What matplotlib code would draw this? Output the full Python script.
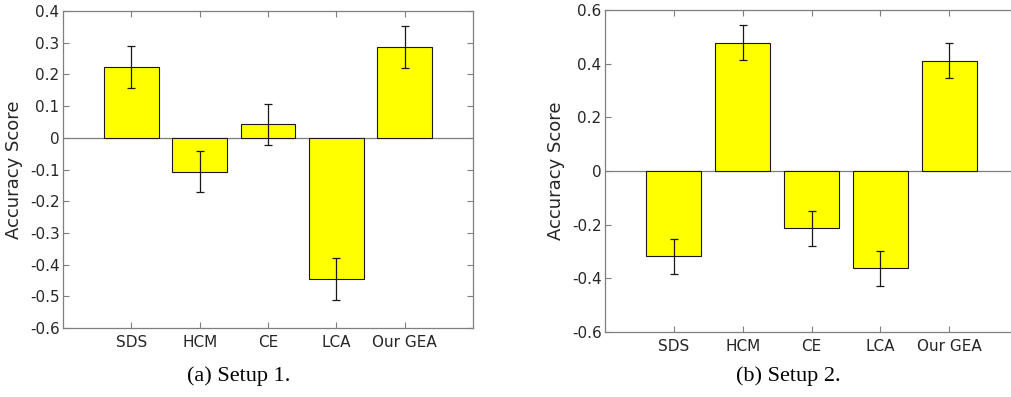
import numpy as np
import matplotlib
matplotlib.use("Agg")
import matplotlib.pyplot as plt

# data
methods = ["SDS", "HCM", "CE", "LCA", "Our GEA"]
setup1_scores = [0.223, -0.107, 0.043, -0.445, 0.287]
setup1_err = [0.066, 0.065, 0.065, 0.066, 0.066]
setup2_scores = [-0.317, 0.478, -0.213, -0.363, 0.411]
setup2_err = [0.065, 0.065, 0.065, 0.065, 0.065]

setup1_ticks = [0.4, 0.3, 0.2, 0.1, 0, -0.1, -0.2, -0.3, -0.4, -0.5, -0.6]
setup2_ticks = [0.6, 0.4, 0.2, 0, -0.2, -0.4, -0.6]

txt = "#262626"
edge = "#7f7f7f"

plt.rcParams['font.family'] = ['DejaVu Sans']

fig = plt.figure(figsize=(10.11, 3.97), dpi=100)
W, H = 1011, 397

def tick_lbl(v):
    if v == 0:
        return "0"
    return ("%.1f" % v)

def panel(rect, scores, err, yticks, caption, cap_x, ylab_x):
    l, t, r, b = rect
    ax = fig.add_axes([l / W, 1 - b / H, (r - l) / W, (b - t) / H])
    x = np.arange(1, len(methods) + 1)
    ax.bar(x, scores, width=0.8, color="#ffff00", edgecolor="#1a1a1a", linewidth=0.8, zorder=2)
    ax.errorbar(x, scores, yerr=err, fmt="none", ecolor="#1a1a1a", elinewidth=0.9,
                capsize=3, capthick=0.9, zorder=3)
    ax.axhline(0, color=edge, linewidth=0.9, zorder=1)
    ax.set_xlim(0, 6)
    ax.set_ylim(min(yticks), max(yticks))
    ax.set_xticks(x)
    ax.set_xticklabels(methods, color=txt)
    ax.set_yticks(yticks)
    ax.set_yticklabels([tick_lbl(v) for v in yticks], color=txt)
    ax.tick_params(direction="in", length=4, width=0.8, color=edge,
                   top=True, right=True, labelsize=11)
    ax.tick_params(axis="y", pad=2.5)
    ax.tick_params(axis="x", pad=5)
    for s in ax.spines.values():
        s.set_color(edge)
        s.set_linewidth(0.9)
    ax.set_ylabel("Accuracy Score", color=txt, fontsize=13)
    # label anchor is its right edge once rotated
    ax.yaxis.set_label_coords((ylab_x - l) / (r - l), 0.5)
    fig.text(cap_x / W, 1 - 376 / H, caption, ha="center", va="center",
             family=["Liberation Serif"], fontsize=16, color="black")
    return ax

panel((63, 11, 473, 328), setup1_scores, setup1_err, setup1_ticks, "(a) Setup 1.", 239, 23)
panel((605, 10, 1018, 332), setup2_scores, setup2_err, setup2_ticks, "(b) Setup 2.", 788, 565)

fig.savefig("out.png", dpi=100)
